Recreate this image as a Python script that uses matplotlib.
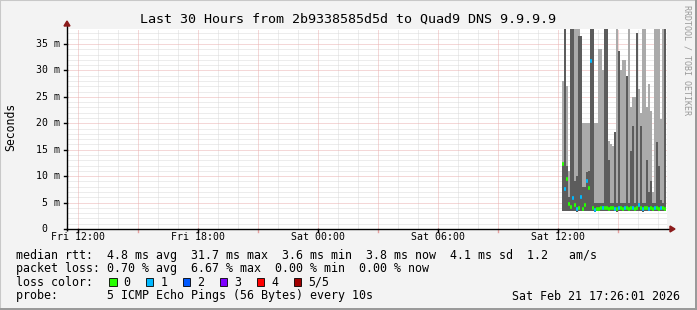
import matplotlib
matplotlib.use("Agg")
import matplotlib.pyplot as plt
from matplotlib.patches import Rectangle, Polygon

# ---------------- data ----------------
title = "Last 30 Hours from 2b9338585d5d to Quad9 DNS 9.9.9.9"
range_minutes = 1800            # 30 hours, Fri 11:26 -> Sat 17:26
first_tick_minute = 34          # Fri 12:00
tick_labels = ["Fri 12:00", "Fri 18:00", "Sat 00:00", "Sat 06:00", "Sat 12:00"]
ytick_vals = [0, 5, 10, 15, 20, 25, 30, 35]
ytick_labels = ["0  ", "5 m", "10 m", "15 m", "20 m", "25 m", "30 m", "35 m"]
y_max = 37.84

data_start_minute = 1485        # Sat 12:11
step_minutes = 6
smoke_lo = [3.4, 3.5, 3.4, 3.5, 3.4, 3.4, 3.5, 3.3, 3.4, 3.5, 3.4, 3.4, 3.5,
            3.4, 3.4, 3.5, 3.3, 3.4, 3.4, 3.5, 3.4, 3.4, 3.5, 3.4, 3.4, 3.5,
            3.4, 3.3, 3.4, 3.5, 3.4, 3.4, 3.5, 3.4, 3.4, 3.5, 3.4, 3.4, 3.5,
            3.4, 3.3, 3.4, 3.5, 3.4, 3.4, 3.5, 3.4, 3.4, 3.5, 3.4, 3.4, 3.5]
smoke_hi = [28, 40, 27, 11, 40, 40, 40, 40, 40, 36.5, 20, 20, 20, 20, 40, 40,
            20, 20, 34, 34, 30, 40, 40, 16.6, 16, 15.7, 18.3, 40, 33.6, 30, 32,
            32, 29, 40, 23, 25, 25, 37, 26.5, 22, 40, 40, 23, 27.4, 22.3, 7,
            40, 40, 40, 20.8, 40, 40]
smoke_dark = [12.3, 40, 12, 6, 40, 40, 9, 10, 36.5, 36.5, 8, 8, 10.8, 11, 40,
              40, 5, 5, 5, 5, 5, 40, 40, 13, 5, 5, 18.3, 5, 33.6, 5, 5, 5, 29,
              5, 14.7, 19.5, 5, 37, 5, 19.5, 5, 5, 13, 7, 9, 5, 5, 16.5, 12,
              5.5, 5, 37.8]
median = [12.3, 7.5, 9.4, 4.8, 4.2, 5.8, 4.5, 3.8, 4.0, 6.0, 3.8, 4.5, 9.0,
          7.7, 31.7, 4.0, 3.6, 3.8, 3.8, 4.0, 3.9, 4.0, 3.9, 3.8, 3.9, 4.0,
          3.8, 3.7, 3.9, 4.0, 3.8, 3.9, 4.0, 3.8, 3.9, 4.0, 3.8, 3.9, 4.5,
          4.0, 3.8, 3.9, 4.0, 3.8, 3.9, 3.8, 3.9, 4.0, 3.8, 3.9, 4.0, 3.8]
loss = [0, 1, 0, 0, 0, 1, 0, 1, 0, 1, 0, 0, 1, 0, 1, 0, 1, 0, 0, 0, 1, 0, 0,
        0, 0, 0, 1, 0, 1, 0, 0, 1, 0, 0, 0, 1, 0, 0, 1, 0, 1, 0, 0, 1, 0, 0,
        1, 0, 0, 1, 0, 0]

loss_labels = ["0", "1", "2", "3", "4", "5/5"]
loss_colors = ["#26ff00", "#00b8ff", "#0059ff", "#7e00ff", "#ff0000", "#a10000"]

legend_rtt = "median rtt:  4.8 ms avg  31.7 ms max  3.6 ms min  3.8 ms now  4.1 ms sd  1.2   am/s"
legend_loss = "packet loss: 0.70 % avg  6.67 % max  0.00 % min  0.00 % now"
legend_color = "loss color:"
legend_probe = "probe:       5 ICMP Echo Pings (56 Bytes) every 10s"
stamp = "Sat Feb 21 17:26:01 2026"
watermark = "RRDTOOL / TOBI OETIKER"

# ---------------- figure ----------------
W, H = 697, 310
fig = plt.figure(figsize=(W / 100, H / 100), dpi=100)
fig.patch.set_facecolor("#f3f3f3")
MONO = "DejaVu Sans Mono"

def fx(px):
    return px / W

def fy(py):
    return 1 - py / H

# outer 3D frame
fig.add_artist(Rectangle((0, 0), 1, 1, transform=fig.transFigure, fill=False,
                         edgecolor="#c8c8c8", lw=1.5))
fig.add_artist(Rectangle((fx(0), fy(H)), fx(W), 2 / H, transform=fig.transFigure,
                         color="#9a9a9a", lw=0))
fig.add_artist(Rectangle((fx(W - 2), fy(H)), 2 / W, 1, transform=fig.transFigure,
                         color="#9a9a9a", lw=0))

L, R, T, B = 67, 667, 29, 229
ax = fig.add_axes([fx(L), fy(B), (R - L) / W, (B - T) / H])
ax.set_facecolor("white")
ax.set_xlim(0, range_minutes)
ax.set_ylim(0, y_max)
for s in ax.spines.values():
    s.set_visible(False)
ax.set_xticks([])
ax.set_yticks([])

dot = (0, (1, 1))
# minor grid
for v in range(1, int(y_max) + 1):
    if v % 5:
        ax.axhline(v, color="#dadada", lw=0.72, ls=dot, zorder=0)
for m in range(first_tick_minute - 60 * 0, range_minutes, 60):
    if (m - first_tick_minute) % 180:
        ax.axvline(m, color="#dadada", lw=0.72, ls=dot, zorder=0)
# major grid
for v in ytick_vals[1:]:
    ax.axhline(v, color="#eab0b0", lw=0.72, ls=dot, zorder=0.5)
for m in range(first_tick_minute, range_minutes, 180):
    ax.axvline(m, color="#eab0b0", lw=0.72, ls=dot, zorder=0.5)

# smoke
n = len(median)
times = [data_start_minute + step_minutes * i for i in range(n)]
ax.bar(times, [h - l for h, l in zip(smoke_hi, smoke_lo)], bottom=smoke_lo,
       width=step_minutes, align="edge", color="#aaaaaa", lw=0, zorder=2)
ax.bar(times, [d - l for d, l in zip(smoke_dark, smoke_lo)], bottom=smoke_lo,
       width=step_minutes, align="edge", color="#5c5c5c", lw=0, zorder=3)
for t, m, lc in zip(times, median, loss):
    ax.hlines(m, t, t + step_minutes, color=loss_colors[lc], lw=2.6, zorder=4)

# axes lines with arrows
ax.plot([-1.5 * 3, range_minutes + 4 * 3], [0, 0], color="black", lw=1,
        clip_on=False, zorder=6, solid_capstyle="butt")
ax.plot([0, 0], [-2 / 5.286, y_max + 5 / 5.286], color="black", lw=1,
        clip_on=False, zorder=6, solid_capstyle="butt")
px_m = 3.0          # minutes per pixel
px_v = 1 / 5.286    # ms per pixel
ax.add_patch(Polygon([[range_minutes + 3 * px_m, 3 * px_v],
                      [range_minutes + 3 * px_m, -3 * px_v],
                      [range_minutes + 8 * px_m, 0]],
                     closed=True, color="#8b1a1a", clip_on=False, zorder=7))
ax.add_patch(Polygon([[-3 * px_m, y_max + 3 * px_v],
                      [3 * px_m, y_max + 3 * px_v],
                      [0, y_max + 8 * px_v]],
                     closed=True, color="#8b1a1a", clip_on=False, zorder=7))

# ticks
for m in range(first_tick_minute, range_minutes, 180):
    ax.plot([m, m], [0, -3 * px_v], color="#e6a0a0", lw=1, clip_on=False)
for m in range(first_tick_minute, range_minutes, 360):
    ax.plot([m, m], [0, -3 * px_v], color="black", lw=1, clip_on=False)
for v in ytick_vals:
    ax.plot([0, -3 * px_m], [v, v], color="black", lw=1, clip_on=False)

# tick labels
for i, lab in enumerate(tick_labels):
    m = first_tick_minute + 360 * i
    ax.text(m, -8 * px_v, lab, ha="center", va="center", family=MONO,
            fontsize=7.1, clip_on=False)
for v, lab in zip(ytick_vals, ytick_labels):
    ax.text(-7 * px_m, v, lab, ha="right", va="center", family=MONO,
            fontsize=7.1, clip_on=False)

# title and labels
fig.text(fx(348.5), fy(19), title, ha="center", va="center", family=MONO,
         fontsize=9.6)
fig.text(fx(11), fy(127), "Seconds", rotation=90, ha="center", va="center",
         family=MONO, fontsize=8.3)
fig.text(fx(686.5), fy(5), watermark, rotation=270, ha="center", va="top",
         family=MONO, fontsize=6, color="#9a9a9a")

# legend
fs = 8.4
fig.text(fx(16), fy(255), legend_rtt, ha="left", va="center", family=MONO, fontsize=fs)
fig.text(fx(16), fy(268.5), legend_loss, ha="left", va="center", family=MONO, fontsize=fs)
fig.text(fx(16), fy(282), legend_color, ha="left", va="center", family=MONO, fontsize=fs)
fig.text(fx(16), fy(296), legend_probe, ha="left", va="center", family=MONO, fontsize=fs)
fig.text(fx(680), fy(296), stamp, ha="right", va="center", family=MONO, fontsize=fs)
for i, (lab, col) in enumerate(zip(loss_labels, loss_colors)):
    bx = 109 + 36.9 * i
    fig.add_artist(Rectangle((fx(bx), fy(286)), 7.5 / W, 8 / H,
                             transform=fig.transFigure, facecolor=col,
                             edgecolor="black", lw=0.6))
    fig.text(fx(bx + 14.5), fy(282), lab, ha="left", va="center", family=MONO,
             fontsize=fs)

fig.savefig("out.png", dpi=100, facecolor=fig.get_facecolor())
